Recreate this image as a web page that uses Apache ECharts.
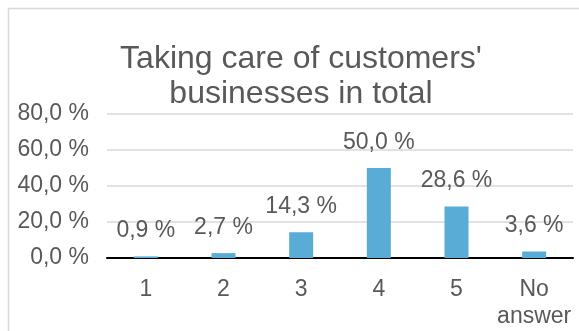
<!DOCTYPE html>
<html>
<head>
<meta charset="utf-8">
<script src="https://cdn.jsdelivr.net/npm/echarts@6/dist/echarts.min.js"></script>
<style>
  html, body { margin: 0; padding: 0; background: #ffffff; }
  #chart { width: 579px; height: 331px; }
</style>
</head>
<body>
<div id="chart"></div>
<script>
// Survey answer categories and the share of respondents in each
const categories = ['1', '2', '3', '4', '5', 'No\nanswer'];
const shares = [0.9, 2.7, 14.3, 50.0, 28.6, 3.6];
const axisMin = 0;
const axisMax = 80;
const axisStep = 20;
const titleText = "Taking care of customers'\nbusinesses in total";

const textColor = '#595959';
const fontFamily = '"Liberation Sans", Arial, Helvetica, sans-serif';

function pct(v) {
  return v.toFixed(1).replace('.', ',') + ' %';
}

const chart = echarts.init(document.getElementById('chart'), null, { renderer: 'canvas' });
chart.setOption({
  animation: false,
  backgroundColor: '#ffffff',
  title: {
    text: titleText,
    left: 296,
    textAlign: 'center',
    top: 37,
    textStyle: {
      color: textColor,
      fontFamily: fontFamily,
      fontSize: 32,
      fontWeight: 'normal',
      lineHeight: 35
    }
  },
  graphic: [{
    type: 'rect',
    shape: { x: 8.5, y: 8.5, width: 600, height: 400 },
    style: { fill: 'none', stroke: '#d9d9d9', lineWidth: 1.5 },
    silent: true,
    z: -1
  }],
  grid: { left: 107, right: 6, top: 114, bottom: 73 },
  xAxis: {
    type: 'category',
    data: categories,
    axisLine: { show: true, lineStyle: { color: '#000000', width: 2 } },
    axisTick: { show: false },
    axisLabel: {
      interval: 0,
      color: textColor,
      fontFamily: fontFamily,
      fontSize: 23,
      lineHeight: 27,
      margin: 18
    }
  },
  yAxis: {
    type: 'value',
    min: axisMin,
    max: axisMax,
    interval: axisStep,
    axisLine: { show: false },
    axisTick: { show: false },
    splitLine: { lineStyle: { color: '#d9d9d9', width: 1.5 } },
    axisLabel: {
      color: textColor,
      fontFamily: fontFamily,
      fontSize: 23,
      margin: 18,
      formatter: (v) => pct(v)
    }
  },
  series: [{
    type: 'bar',
    data: shares,
    barWidth: 24,
    itemStyle: { color: '#58acd5' },
    label: {
      show: true,
      position: 'top',
      distance: 14,
      color: textColor,
      fontFamily: fontFamily,
      fontSize: 23,
      formatter: (p) => pct(p.value)
    }
  }]
});
</script>
</body>
</html>
